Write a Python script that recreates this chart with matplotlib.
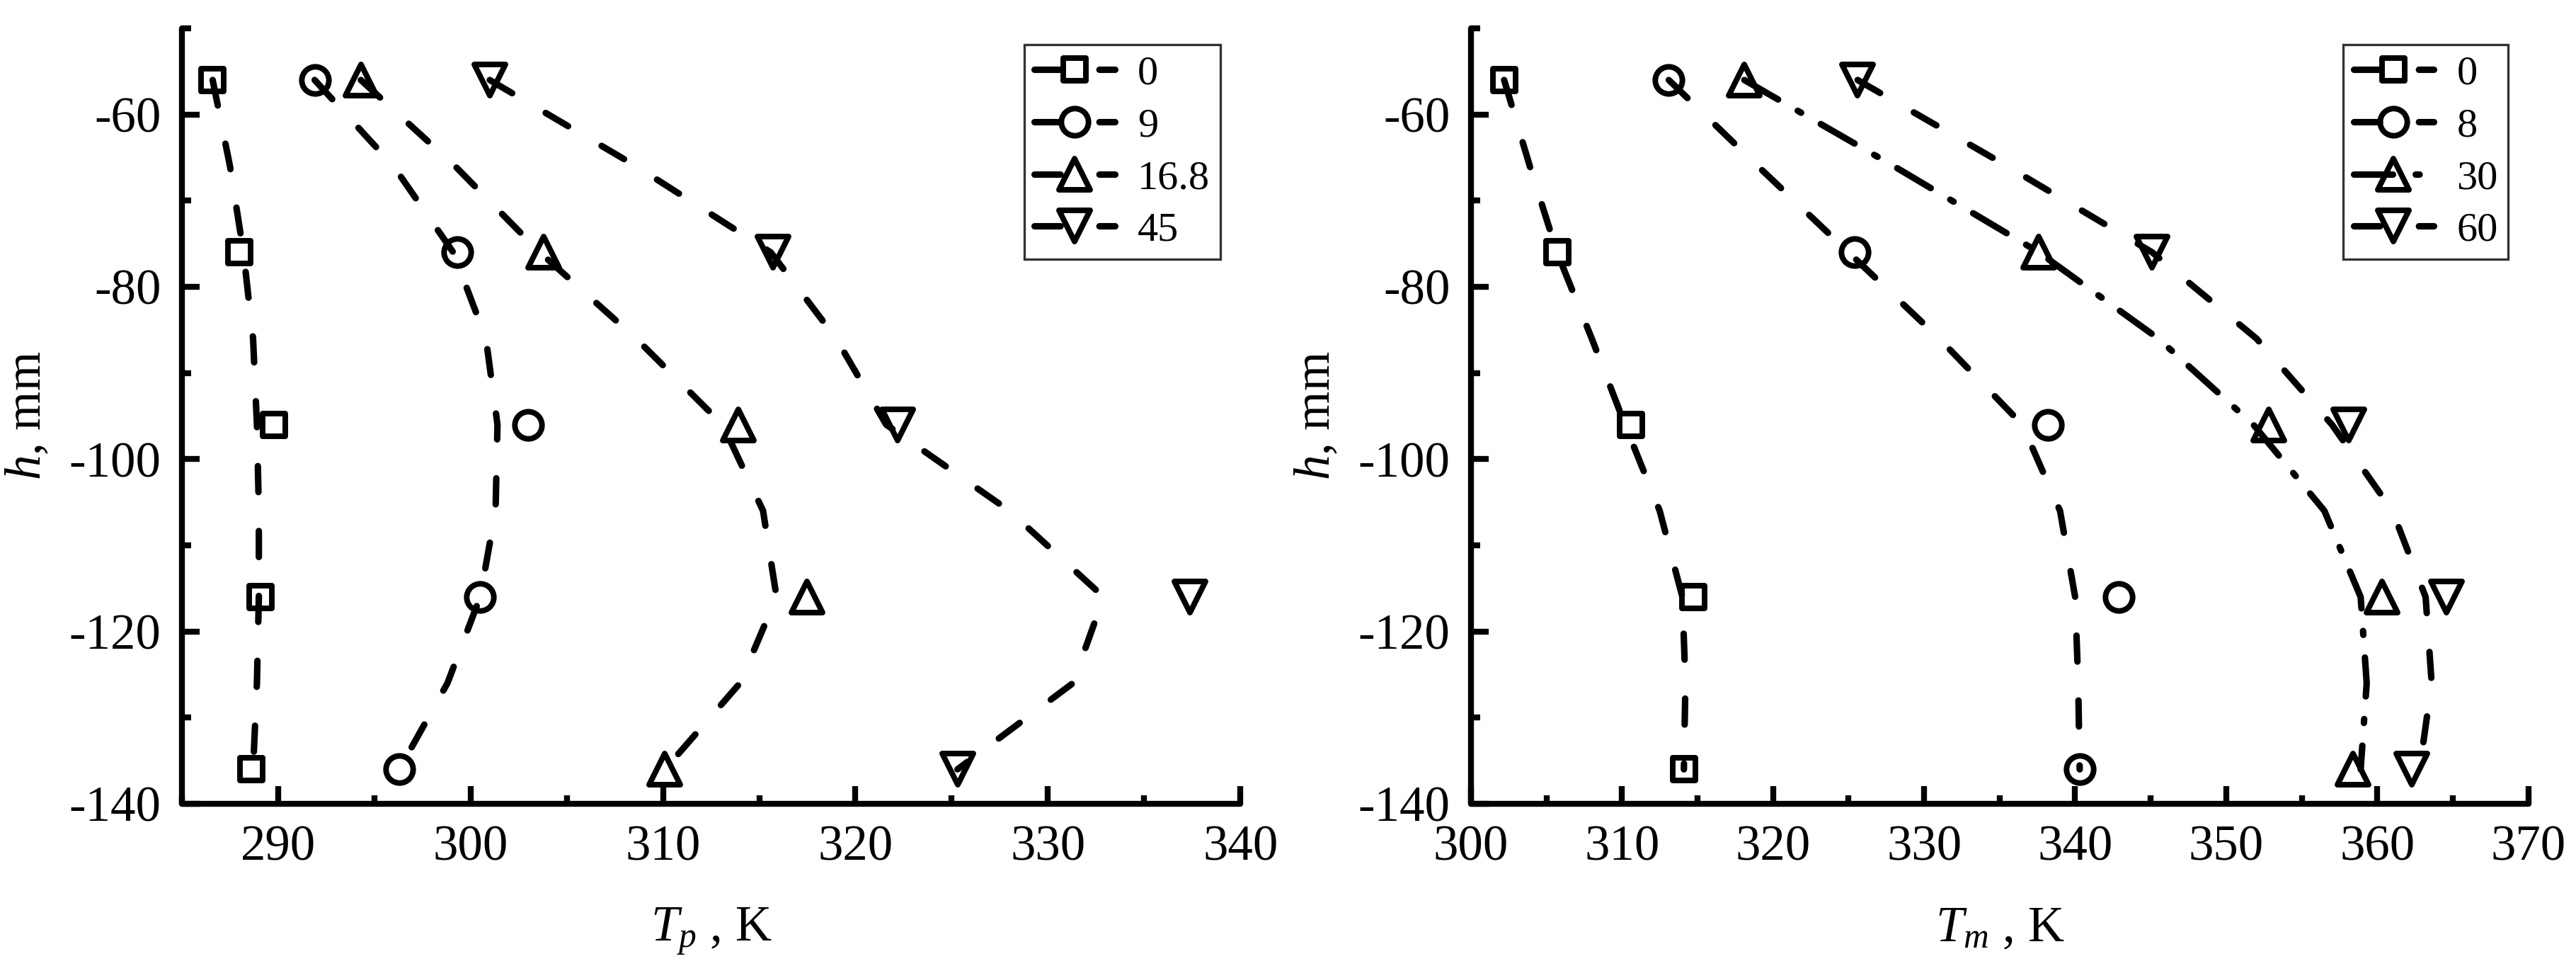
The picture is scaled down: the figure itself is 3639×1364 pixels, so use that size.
import matplotlib
matplotlib.use("Agg")
import matplotlib.pyplot as plt
from matplotlib.lines import Line2D
from matplotlib.markers import MarkerStyle
from matplotlib.ticker import MultipleLocator

plt.rcParams['font.family'] = ['Liberation Serif', 'DejaVu Serif']
plt.rcParams['mathtext.fontset'] = 'custom'
plt.rcParams['mathtext.rm'] = 'Liberation Serif'
plt.rcParams['mathtext.it'] = 'Liberation Serif:italic'
plt.rcParams['axes.unicode_minus'] = False

# measured depths (marker rows) and depths where the fitted curves were read
h_pts = [-56, -76, -96, -116, -136]
h_curve = [-56, -66, -76, -86, -96, -106, -116, -126, -136]

# left panel: T_p, K
left_labels = ['0', '9', '16.8', '45']
left_pts = [
    [286.6, 288.0, 289.8, 289.1, 288.6],
    [291.9, 299.3, 303.0, 300.5, 296.3],
    [294.3, 303.8, 313.9, 317.5, 310.1],
    [301.0, 315.7, 322.2, 337.4, 325.3],
]
left_curves = [
    [286.6, 287.5, 288.2, 288.7, 288.9, 289.0, 289.0, 288.9, 288.7],
    [291.9, 296.0, 299.1, 300.8, 301.4, 301.3, 300.5, 298.8, 296.3],
    [294.3, 299.2, 303.6, 308.6, 313.1, 315.2, 315.9, 314.0, 310.1],
    [301.0, 308.6, 315.6, 319.0, 321.6, 328.0, 332.9, 331.3, 325.3],
]

# right panel: T_m, K
right_labels = ['0', '8', '30', '60']
right_pts = [
    [302.2, 305.7, 310.6, 314.7, 314.1],
    [313.1, 325.4, 338.2, 342.9, 340.3],
    [318.1, 337.6, 352.8, 360.3, 358.4],
    [325.6, 345.1, 358.1, 364.6, 362.3],
]
right_curves = [
    [302.2, 303.9, 305.7, 308.0, 310.2, 312.5, 314.0, 314.2, 314.1],
    [313.1, 319.0, 325.0, 331.0, 336.5, 339.0, 340.0, 340.2, 340.3],
    [318.1, 328.0, 337.6, 345.5, 351.8, 356.5, 358.9, 359.3, 358.9],
    [325.6, 335.5, 345.1, 352.0, 357.0, 361.0, 363.2, 363.6, 362.8],
]
right_styles = ['dash', 'dash', 'dashdot', 'dash']

markers = ['s', 'o', '^', 'v']
msizes = [7.8, 9.2, 10.5, 10.5]
LW = 2.2
DASH = (0, (4, 6))
DASHDOT = (0, (6, 3.5, 0.6, 3.5))


def draw(ax, curves, pts, labels, styles, xlim, xlabel):
    handles = []
    for i in range(4):
        ls = DASHDOT if styles[i] == 'dashdot' else DASH
        ax.plot(curves[i], h_curve, color='black', lw=LW, linestyle=ls,
                dash_capstyle='round', solid_capstyle='round')
        mk = MarkerStyle(markers[i], joinstyle='round')
        ax.plot(pts[i], h_pts, linestyle='none', marker=mk, ms=msizes[i],
                mfc='none', mec='black', mew=1.9)
        handles.append(Line2D([], [], color='black', lw=LW, linestyle=ls,
                              dash_capstyle='round', marker=mk, ms=msizes[i],
                              mfc='none', mec='black', mew=1.9))
    ax.set_xlim(*xlim)
    ax.set_ylim(-140, -50)
    ax.xaxis.set_minor_locator(MultipleLocator(5))
    ax.yaxis.set_minor_locator(MultipleLocator(10))
    ax.set_yticks([-140, -120, -100, -80, -60])
    ax.set_xticks([t for t in range(290, 371, 10) if xlim[0] <= t <= xlim[1]])
    for s in ['top', 'right']:
        ax.spines[s].set_visible(False)
    for s in ['left', 'bottom']:
        ax.spines[s].set_linewidth(2.0)
        ax.spines[s].set_capstyle('round')
    ax.tick_params(which='both', direction='in', width=2.0, labelsize=17, pad=7)
    ax.tick_params(which='major', length=6)
    ax.tick_params(which='minor', length=3)
    ax.set_xlabel(xlabel, fontsize=17, labelpad=12)
    ax.set_ylabel('$h$, mm', fontsize=17, labelpad=6)
    leg = ax.legend(handles, labels, loc='upper right', bbox_to_anchor=(0.981, 0.979),
                    borderaxespad=0, fontsize=14, frameon=True, fancybox=False,
                    edgecolor='black', handlelength=1.95, handletextpad=0.55,
                    labelspacing=0.36, borderpad=0.25)
    leg.get_frame().set_linewidth(0.8)


fig = plt.figure(figsize=(3639 / 300, 1364 / 300), dpi=300)
ax1 = fig.add_axes([0.0706, 0.1679, 0.4109, 0.8028])
ax2 = fig.add_axes([0.5710, 0.1679, 0.4105, 0.8028])

draw(ax1, left_curves, left_pts, left_labels, ['dash'] * 4, (285, 340), '$T_p$ , K')
draw(ax2, right_curves, right_pts, right_labels, right_styles, (300, 370), '$T_m$ , K')

fig.savefig('out.png', dpi=300)
plt.close(fig)
